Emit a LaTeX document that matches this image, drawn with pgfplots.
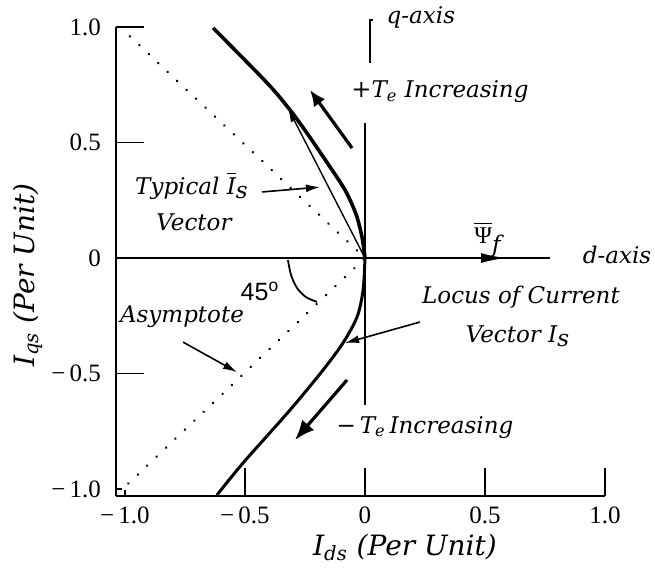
\documentclass[border=0pt]{standalone}
\usepackage{fontspec}
\usepackage{amsmath}
\usepackage{pgfplots}
\pgfplotsset{compat=1.18}
\usetikzlibrary{arrows.meta}
\setmainfont{Liberation Serif}
\newfontfamily\labfont{DejaVu Serif}
\newfontfamily\degfont{Liberation Sans}
\newcommand{\lab}{\labfont\itshape\fontsize{11.5}{13}\selectfont}
\newcommand{\axlab}{\labfont\itshape\fontsize{14}{16}\selectfont}

\begin{document}
\begin{tikzpicture}
\useasboundingbox (0,0) rectangle (327.5pt,284pt);
\begin{axis}[
  at={(58pt,36pt)}, anchor=south west,
  scale only axis, width=244.5pt, height=234.5pt,
  xmin=-1.0375, xmax=1.0, ymin=-1.03, ymax=1.0,
  axis lines=left,
  axis line style={-, line width=1pt},
  clip=false,
  tick align=inside,
  major tick length=14pt,
  tick style={line width=0.75pt, black},
  xtick={-0.5,0,0.5,1.0},
  xticklabels={−\,0.5,0,0.5,1.0},
  extra x ticks={-1.0},
  extra x tick labels={−\,1.0},
  extra x tick style={major tick length=3pt},
  ytick={-0.5,0,0.5,1.0},
  yticklabels={−\,0.5,0,0.5,1.0},
  extra y ticks={-1.0},
  extra y tick labels={−\,1.0},
  extra y tick style={major tick length=3pt},
  ticklabel style={font=\fontsize{12.5}{15}\selectfont},
  xticklabel style={yshift=-2pt},
  yticklabel style={xshift=-4pt},
  xlabel={\axlab I\textsubscript{ds} (Per Unit)},
  ylabel={\axlab I\textsubscript{qs} (Per Unit)},
  xlabel style={at={(axis cs:0.1667,-1.286)}, anchor=base},
  ylabel style={at={(axis cs:-1.404,-0.074)}, anchor=center},
]
% d- and q-axes
\addplot[black, line width=0.9pt] coordinates {(-1.0375,0) (0.771,0)};
\addplot[black, line width=0.75pt] coordinates {(0,0.584) (0,-0.636)};
\addplot[black, line width=0.7pt] coordinates {(0.034,1.03) (0.021,1.03) (0.021,0.844)};

% asymptotes at 45 degrees
\addplot[black, line width=1.3pt, line cap=round, dash pattern=on 0.1pt off 6.4pt]
  coordinates {(-0.98,0.96) (0,0) (-1.0,-0.99)};

% locus of the current vector
\addplot[black, line width=1.8pt, smooth] coordinates {
  (-0.633,0.996) (-0.408,0.758) (-0.3125,0.641) (-0.242,0.541)
  (-0.154,0.407) (-0.083,0.294) (-0.0375,0.190) (-0.0125,0.091) (0,0)};
\addplot[black, line width=1.5pt, smooth] coordinates {
  (0,0) (-0.008,-0.139) (-0.033,-0.255) (-0.092,-0.368)
  (-0.175,-0.485) (-0.3125,-0.658) (-0.508,-0.887) (-0.617,-1.026)};

% typical current vector
\addplot[black, line width=0.7pt, -{Latex[length=7pt,width=4pt]}]
  coordinates {(0,0) (-0.321,0.649)};

% field flux vector
\addplot[black, line width=1.4pt, -{Latex[length=13pt,width=5pt]}]
  coordinates {(0,0) (0.592,0)};

% torque direction arrows
\addplot[black, line width=1.6pt, -{Latex[length=8pt,width=7pt]}]
  coordinates {(-0.054,0.476) (-0.229,0.727)};
\addplot[black, line width=1.6pt, -{Latex[length=10pt,width=8pt]}]
  coordinates {(-0.075,-0.528) (-0.292,-0.788)};

% pointer arrows
\addplot[black, line width=0.8pt, -{Latex[length=7pt,width=4pt]}]
  coordinates {(-0.429,0.286) (-0.1875,0.307)};
\addplot[black, line width=0.8pt, -{Latex[length=7pt,width=4pt]}]
  coordinates {(0.229,-0.277) (-0.083,-0.368)};
\addplot[black, line width=0.8pt, -{Latex[length=7pt,width=4pt]}]
  coordinates {(-0.758,-0.364) (-0.533,-0.494)};

% 45 degree arc
\addplot[black, line width=0.9pt, smooth] coordinates {
  (-0.321,-0.009) (-0.308,-0.074) (-0.283,-0.130) (-0.246,-0.169) (-0.2,-0.19)};

% labels
\node[anchor=base] at (axis cs:0.233,1.013) {\lab q-axis};
\node[anchor=base] at (axis cs:1.05,-0.022) {\lab d-axis};
\node[anchor=base] at (axis cs:0.3125,0.693)
  {\labfont\fontsize{12}{13}\selectfont +\lab T\textsubscript{e} Increasing};
\node[anchor=base] at (axis cs:0.25,-0.758)
  {\labfont\fontsize{11.5}{13}\selectfont −\,\lab T\textsubscript{e}\,Increasing};
\node[anchor=base] at (axis cs:0.5125,0.065)
  {\fontsize{12}{14}\selectfont $\overline{\text{Ψ}}_{\text{\lab f}}$};
\node[anchor=base] at (axis cs:-0.721,0.277)
  {\lab Typical $\overline{\text{\lab I}}_{\text{\lab s}}$};
\node[anchor=base] at (axis cs:-0.7125,0.121) {\lab Vector};
\node[anchor=base] at (axis cs:-0.7625,-0.281) {\lab Asymptote};
\node[anchor=base] at (axis cs:0.65,-0.195) {\lab Locus of Current};
\node[anchor=base] at (axis cs:0.6375,-0.364)
  {\lab Vector $\text{\lab I}_{\text{\lab s}}$};
\node[anchor=base] at (axis cs:-0.4375,-0.182)
  {\degfont\fontsize{12.5}{14}\selectfont 45\textsuperscript{o}};
\end{axis}
\end{tikzpicture}
\end{document}
